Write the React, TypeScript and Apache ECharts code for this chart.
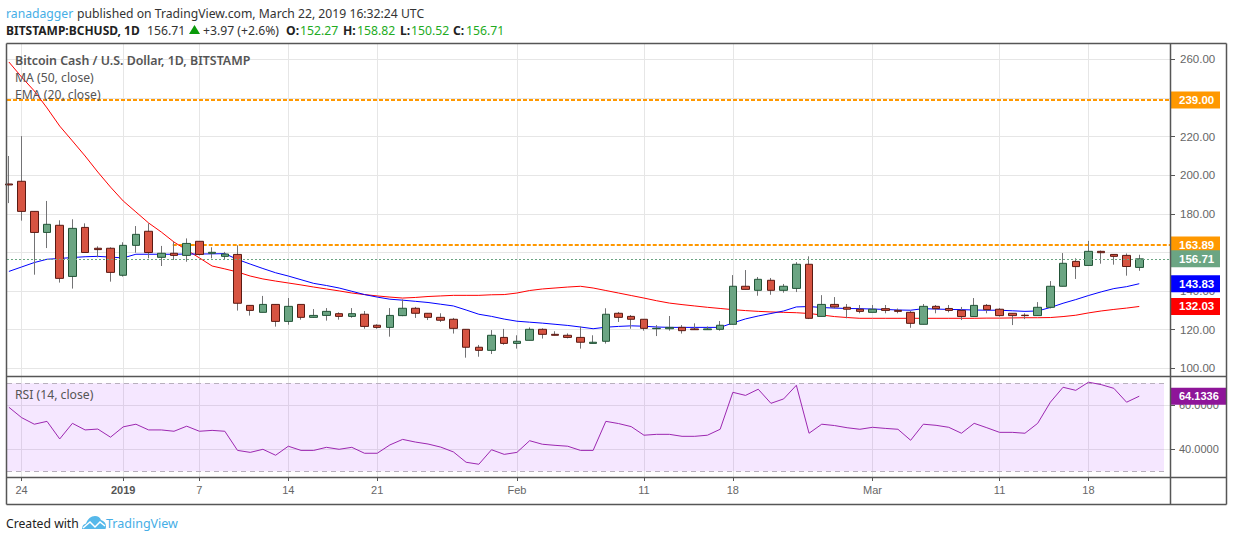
import React, { useEffect, useRef } from "react";
import * as echarts from "echarts";

const opens = [195.5,196.9,181.3,170.4,174.1,147.6,173,162.2,162.2,148.2,163.7,171,157.5,159.6,158.5,165.8,159.6,158,159,132.6,129,133.1,124.3,133.1,126.4,127.4,128.3,126.9,128,122.3,121.2,127.3,131.1,128.5,126.4,125.4,120.2,110.9,109.3,116,112.9,114.5,120.2,117.6,117.1,116,112.9,114,128.5,126.9,125.4,120.5,120.5,121.2,120.4,120,120.2,122.8,142.5,140.4,145.6,140.4,141.4,153.9,126.9,133.1,131.6,130.6,129,130.9,130,129,122.8,132.1,131,130,126.8,132.6,130.6,128.5,127.5,127.3,131.6,142.5,155.4,153.3,160.6,159,158.5,152.27];
const highs = [210,220.3,181.3,186.7,176.7,177.2,175.1,163.2,162.7,165.3,173.7,175.1,163.4,165.6,167.3,165.8,162.7,160.3,163.7,132.6,137.5,133.1,136.4,133.1,130.7,131.2,129,131.2,129.7,122.8,131.2,135.7,131.8,128.5,128.5,126.1,120.2,112.1,119.8,120.4,117.1,121.2,120.7,119.2,118.1,121.7,117.1,131.1,129.2,127.6,125.4,122.4,127.1,122.4,123.3,121.7,124.5,148.3,150.9,147.3,146.8,143.7,155,158,137.9,136.9,133.3,132.8,132.8,132.8,131,129.7,133.3,132.8,132.8,131.8,136.4,133.3,131.2,128.5,128.5,134.3,145.2,159.7,157,166,161,159,159.5,158.82];
const lows = [185.6,176.5,148.5,162.3,144.4,141.3,160,157.5,144.9,147.5,159.9,157,153,156.1,155.2,158.5,157,156.1,129.9,127.3,129,121.6,122.6,125.2,126.2,124.7,125.2,126.2,120.5,120.5,116.4,127,126.1,125,124,118,105.5,106,107.4,112.2,110.2,114.5,115.4,117,115.5,110.2,112.9,112.8,124,120.5,119.5,116.7,119.5,118,120,120,119.5,122.8,140.9,137.6,138.1,139.2,139.5,125.5,126.9,131,125.9,128.5,129,128.5,128.5,121,122.8,128.5,129,125,126.8,128.5,126.8,122.4,125.5,127.3,131,142.5,146.3,153.3,154.2,153.7,148,150.52];
const closes = [195,181.3,170.4,174.6,146.6,172.5,160,161.5,149.7,163.7,169.4,160,159.6,158.5,164.7,159,160.1,159.2,133.7,130,133.1,124.3,132.1,126.4,127.4,129.5,126.9,128.3,121.7,121.2,127.4,131.1,128.5,126.4,124.9,120.7,110.9,109.3,117.1,112.9,114,120.2,117.6,117.1,116,113.5,113.5,128,126.4,125.4,120.7,120.7,121.2,119.5,120,120.4,122.3,142.5,140.9,146.1,140.4,142.5,153.9,125.9,133.1,131.8,130.6,129.5,130.6,130,129.5,123.3,132.1,130.9,130,126.8,132.6,130.4,127.3,127.3,127.3,131.6,142.5,154.4,152.7,160.6,159.9,158,152.74,156.71];
const ma50 = [258.7,250.9,243.7,234.9,225.5,217.8,210,201.7,193.9,186.7,181,175.3,170.6,165.4,161.3,157.2,153,151.5,149.9,147.8,146.3,145.2,144.2,143.2,142.1,141.1,140.1,139,138.2,137.5,136.9,136.4,136.7,137.2,137.5,137.8,137.8,137.8,138.1,138.2,139,140.3,141.1,141.6,142.1,142.5,141.6,140.3,139,137.7,136.4,135,133.8,133,132.3,131.6,131,130.4,129.9,129.5,129.2,129,128.8,128.4,127.6,126.8,126.3,125.9,125.9,125.9,125.9,125.9,125.9,125.9,125.9,125.9,125.9,126,126,126.1,126.2,126.2,126.3,126.8,127.5,128.7,129.7,130.5,131.2,132.03];
const ema20 = [150.2,152.5,154.8,156.5,156.9,157.4,157.8,158,157.6,157.2,159.1,159.1,159.1,159.1,159.2,159.2,159.3,159.4,156.4,154,151.7,149.5,147.8,145.9,144,142.9,141.6,139.9,138.2,136.9,135.8,135.3,134.7,134.1,133.2,132.3,130.2,128,126.9,125.5,124.4,123.9,123.4,122.8,122.2,121.4,120.5,121.3,121.7,122,121.8,121.4,121.2,121.2,121.2,121.2,121.2,123.5,125.6,127.1,128.4,129.7,131.8,132,131.5,131.2,131,130.9,130.7,130.5,130.2,130.1,130.9,130.7,130.5,130.4,130.2,130.1,130.1,129.8,129.5,129.7,131.5,133.7,135.6,137.7,139.6,141.3,142.3,143.83];
const rsi14 = [59.1,54.4,51.4,52.7,44.7,51.8,48.8,49.2,45.5,50.2,51.4,48.8,48.8,48.2,50.5,48.2,48.6,48.2,39.5,38.6,40,37.3,41.4,39.5,39.5,40.9,40,40.9,38.2,38.2,42,44.5,43.3,42.4,41,38.8,34.1,33.2,39.8,37.7,38.6,43.9,42.3,41.8,41.4,39.5,39.5,52.7,51.7,50.3,46.4,46.8,46.8,45.9,45.9,46.4,49.1,65.9,64.5,67.3,60.9,62.9,69.1,47.3,51.4,50.8,49.8,49.1,50,49.5,49.1,44.1,51.4,50.9,50,47.3,51.8,49.8,47.7,47.7,47.3,51.8,61.4,68.2,66.8,70.5,69.4,67.7,61.4,64.1336];

const dateTickIndex = [1, 9, 15, 22, 29, 40, 50, 57, 68, 78, 85];
const dateTickLabels = ["24", "2019", "7", "14", "21", "Feb", "11", "18", "Mar", "11", "18"];
const priceTicks = [100, 120, 140, 160, 180, 200, 220, 240, 260];
const priceTickLabels = [100, 120, 140, 180, 200, 220, 260];
const rsiTicks = [40, 60];
const resistanceUpper = 239;
const resistanceLower = 163.89;
const resistanceLowerStartIndex = 12.9;
const lastPrice = 156.71;
const lastMa = 132.03;
const lastEma = 143.83;
const lastRsi = 64.1336;
const rsiBandTop = 70;
const rsiBandBottom = 30;

const xMin = -0.15;
const xMax = 91.42;
const W = 1234;
const H = 541;
const FONT = "'Noto Sans', sans-serif";
const AXIS_FONT = "'Liberation Sans', Arial, sans-serif";
const FRAME = "#565656";
const GRIDC = "#e6e6e6";
const UP = "#6ba583";
const DOWN = "#d75442";
const UP_B = "#225437";
const DOWN_B = "#5b1a13";
const WICK = "#737375";
const ORANGE = "#ff9800";
const GREEN_T = "#22ab22";
const LINK = "#45aee6";

echarts.graphic.registerShape(
  "tvCloud",
  echarts.graphic.extendPath(
    "M0 13C0 10 1.5 8 4 7.5 5.5 3 9 0 13 0c3 0 5 1.5 6 4 3 .8 5 3.3 5 6.2 0 1.2-.2 2-.5 2.8z",
    {}
  )
);

function tx(text: string, x: number, y: number, extra: any = {}) {
  return {
    type: "text",
    x,
    y,
    z: 20,
    silent: true,
    style: {
      text,
      fontFamily: FONT,
      fontSize: 12.2,
      fill: "#333",
      verticalAlign: "middle",
      ...extra,
    },
  };
}

function ln(x1: number, y1: number, x2: number, y2: number, w = 1.5) {
  return {
    type: "line",
    z: 30,
    silent: true,
    shape: { x1, y1, x2, y2 },
    style: { stroke: FRAME, lineWidth: w },
  };
}

function boxLabel(bg: string, width = 41) {
  return {
    show: true,
    position: "end" as const,
    distance: 0,
    formatter: (p: any) => String(p.name),
    backgroundColor: bg,
    color: "#fff",
    fontFamily: AXIS_FONT,
    fontSize: 11.5,
    fontWeight: "bold" as const,
    padding: [0, 0, 0, 9],
    width,
    height: 17,
    lineHeight: 17,
    align: "left" as const,
    verticalAlign: "middle" as const,
  };
}

function hLine(value: number, name: string, from = xMin) {
  return [
    { name, coord: [from, value] },
    { coord: [xMax, value] },
  ];
}

export default function App() {
  const ref = useRef<HTMLDivElement>(null);
  useEffect(() => {
    document.body.style.margin = "0";
    const chart = echarts.init(ref.current!, undefined, { renderer: "svg", width: W, height: H });
    const idx = closes.map((_, i) => i);
    const wickData = idx.map((i) => [i, opens[i], closes[i], lows[i], highs[i]]);
    const bodyData = idx.map((i) => [
      i,
      opens[i],
      closes[i],
      Math.min(opens[i], closes[i]),
      Math.max(opens[i], closes[i]),
    ]);
    const timeAxisLabel = (v: number) => {
      const k = dateTickIndex.indexOf(v);
      if (k < 0) return "";
      const s = dateTickLabels[k];
      return s === "2019" ? `{b|${s}}` : s;
    };
    const option: any = {
      animation: false,
      backgroundColor: "#fff",
      tooltip: { show: false },
      grid: [
        { left: 7, top: 44, width: 1163, height: 332 },
        { left: 7, top: 377, width: 1163, height: 100 },
      ],
      xAxis: [
        {
          type: "value",
          gridIndex: 0,
          min: xMin,
          max: xMax,
          axisLine: { show: false, onZero: false },
          axisLabel: { show: false, customValues: dateTickIndex },
          axisTick: { show: false, customValues: dateTickIndex },
          splitLine: { show: true, lineStyle: { color: GRIDC, width: 1 } },
        },
        {
          type: "value",
          gridIndex: 1,
          min: xMin,
          max: xMax,
          axisLine: { show: false, onZero: false },
          axisTick: { show: true, length: 4, customValues: dateTickIndex, lineStyle: { color: FRAME } },
          axisLabel: {
            show: true,
            customValues: dateTickIndex,
            margin: 7,
            color: "#666",
            fontFamily: AXIS_FONT,
            fontSize: 11,
            formatter: timeAxisLabel,
            rich: { b: { fontWeight: "bold", color: "#555", fontFamily: AXIS_FONT, fontSize: 11 } },
          },
          splitLine: { show: true, lineStyle: { color: GRIDC, width: 1 } },
        },
      ],
      yAxis: [
        {
          type: "value",
          gridIndex: 0,
          position: "right",
          min: 96.01,
          max: 268.03,
          axisLine: { show: false, onZero: false },
          axisTick: { show: true, length: 5, customValues: priceTicks, lineStyle: { color: FRAME } },
          axisLabel: {
            show: true,
            customValues: priceTickLabels,
            margin: 10,
            color: "#666",
            fontFamily: AXIS_FONT,
            fontSize: 11.5,
            formatter: (v: number) => v.toFixed(2),
          },
          splitLine: { show: true, lineStyle: { color: GRIDC, width: 1 } },
        },
        {
          type: "value",
          gridIndex: 1,
          position: "right",
          min: 27.41,
          max: 72.86,
          axisLine: { show: false, onZero: false },
          axisTick: { show: true, length: 5, customValues: rsiTicks, lineStyle: { color: FRAME } },
          axisLabel: {
            show: true,
            customValues: rsiTicks,
            margin: 9,
            color: "#666",
            fontFamily: AXIS_FONT,
            fontSize: 11,
            formatter: (v: number) => v.toFixed(4),
          },
          splitLine: { show: true, lineStyle: { color: GRIDC, width: 1 } },
        },
      ],
      series: [
        {
          name: "MA (50, close)",
          type: "line",
          xAxisIndex: 0,
          yAxisIndex: 0,
          z: 2,
          data: ma50.map((v, i) => [i, v]),
          showSymbol: false,
          symbol: "none",
          lineStyle: { color: "#ff0000", width: 1 },
          markLine: {
            silent: true,
            symbol: "none",
            z: 1,
            lineStyle: { color: "transparent", width: 0 },
            label: boxLabel("#ff0000"),
            data: [hLine(lastMa, lastMa.toFixed(2))],
          },
        },
        {
          name: "EMA (20, close)",
          type: "line",
          xAxisIndex: 0,
          yAxisIndex: 0,
          z: 2,
          data: ema20.map((v, i) => [i, v]),
          showSymbol: false,
          symbol: "none",
          lineStyle: { color: "#0000ff", width: 1 },
          markLine: {
            silent: true,
            symbol: "none",
            z: 1,
            lineStyle: { color: "transparent", width: 0 },
            label: boxLabel("#0000ff"),
            data: [hLine(lastEma, lastEma.toFixed(2))],
          },
        },
        {
          name: "Wicks",
          type: "candlestick",
          xAxisIndex: 0,
          yAxisIndex: 0,
          z: 3,
          barWidth: 1,
          data: wickData,
          itemStyle: { color: WICK, color0: WICK, borderColor: WICK, borderColor0: WICK, borderWidth: 1 },
          markLine: {
            silent: true,
            symbol: "none",
            z: 1,
            lineStyle: { color: ORANGE, width: 2, type: [4, 2] },
            label: boxLabel(ORANGE),
            data: [
              hLine(resistanceUpper, resistanceUpper.toFixed(2)),
              hLine(resistanceLower, resistanceLower.toFixed(2), resistanceLowerStartIndex),
            ],
          },
        },
        {
          name: "Bitcoin Cash / U.S. Dollar",
          type: "candlestick",
          xAxisIndex: 0,
          yAxisIndex: 0,
          z: 4,
          barWidth: 8,
          data: bodyData,
          itemStyle: { color: UP, color0: DOWN, borderColor: UP_B, borderColor0: DOWN_B, borderWidth: 1 },
          markLine: {
            silent: true,
            symbol: "none",
            z: 6,
            lineStyle: { color: UP, width: 1, type: [2, 2] },
            label: boxLabel(UP),
            data: [hLine(lastPrice, lastPrice.toFixed(2))],
          },
        },
        {
          name: "RSI (14, close)",
          type: "line",
          xAxisIndex: 1,
          yAxisIndex: 1,
          z: 4,
          data: rsi14.map((v, i) => [i, v]),
          showSymbol: false,
          symbol: "none",
          lineStyle: { color: "#9c27b0", width: 1 },
          markArea: {
            silent: true,
            z: 1,
            itemStyle: { color: "rgba(153,21,255,0.1)" },
            data: [[{ coord: [xMin, rsiBandTop] }, { coord: [90.95, rsiBandBottom] }]],
          },
          markLine: {
            silent: true,
            symbol: "none",
            z: 2,
            label: { show: false },
            lineStyle: { color: "#b8b0bd", width: 1, type: [5, 4] },
            data: [
              [{ coord: [xMin, rsiBandTop] }, { coord: [90.95, rsiBandTop] }],
              [{ coord: [xMin, rsiBandBottom] }, { coord: [90.95, rsiBandBottom] }],
            ],
          },
        },
        {
          name: "RSI value",
          type: "line",
          xAxisIndex: 1,
          yAxisIndex: 1,
          data: [],
          markLine: {
            silent: true,
            symbol: "none",
            z: 6,
            lineStyle: { color: "transparent", width: 0 },
            label: { ...boxLabel("#8e1599", 48), fontSize: 11 },
            data: [hLine(lastRsi, lastRsi.toFixed(4))],
          },
        },
      ],
      graphic: [
        tx("ranadagger", 6, 13, { fill: LINK }),
        tx("published on TradingView.com, March 22, 2019 16:32:24 UTC", 77, 13),
        tx("BITSTAMP:BCHUSD, 1D", 6, 30, { fontWeight: "bold", fill: "#222", fontSize: 12 }),
        tx("156.71", 147, 30),
        { type: "polygon", z: 20, silent: true, shape: { points: [[194.5, 25], [200, 34], [189, 34]] }, style: { fill: "#0a9a0a" } },
        tx("+3.97 (+2.6%)", 203, 30),
        tx("O:", 286, 30, { fontWeight: "bold", fill: "#222" }),
        tx("152.27", 300, 30, { fill: GREEN_T }),
        tx("H:", 343, 30, { fontWeight: "bold", fill: "#222" }),
        tx("158.82", 357, 30, { fill: GREEN_T }),
        tx("L:", 400, 30, { fontWeight: "bold", fill: "#222" }),
        tx("150.52", 411, 30, { fill: GREEN_T }),
        tx("C:", 453, 30, { fontWeight: "bold", fill: "#222" }),
        tx("156.71", 466, 30, { fill: GREEN_T }),
        tx("Bitcoin Cash / U.S. Dollar, 1D, BITSTAMP", 15, 60, { fill: "#555", fontWeight: 600, fontSize: 12.4 }),
        tx("MA (50, close)", 15, 77, { fill: "#555" }),
        tx("EMA (20, close)", 15, 94, { fill: "#555" }),
        tx("RSI (14, close)", 15, 394, { fill: "#555" }),
        tx("Created with", 6, 523, { fill: "#222" }),
        { type: "tvCloud", x: 82, y: 516, z: 20, silent: true, style: { fill: "#56b8ea" } },
        {
          type: "polyline",
          z: 21,
          silent: true,
          shape: { points: [[83, 528], [90, 522], [95, 527], [100, 522], [105, 526]] },
          style: { stroke: "#fff", lineWidth: 1.5, fill: "none" },
        },
        tx("TradingView", 106, 523, { fill: LINK, fontSize: 12.5 }),
        ln(6.5, 43.5, 1226.5, 43.5),
        ln(6.5, 43.5, 6.5, 504.5),
        ln(1226.5, 43.5, 1226.5, 504.5),
        ln(6.5, 504.5, 1226.5, 504.5),
        ln(6.5, 376.5, 1226.5, 376.5),
        ln(6.5, 477.5, 1226.5, 477.5),
        ln(1170.5, 43.5, 1170.5, 504.5),
      ],
    };
    chart.setOption(option);
    return () => chart.dispose();
  }, []);
  return <div ref={ref} style={{ position: "absolute", left: 0, top: 0, width: W, height: H }} />;
}
